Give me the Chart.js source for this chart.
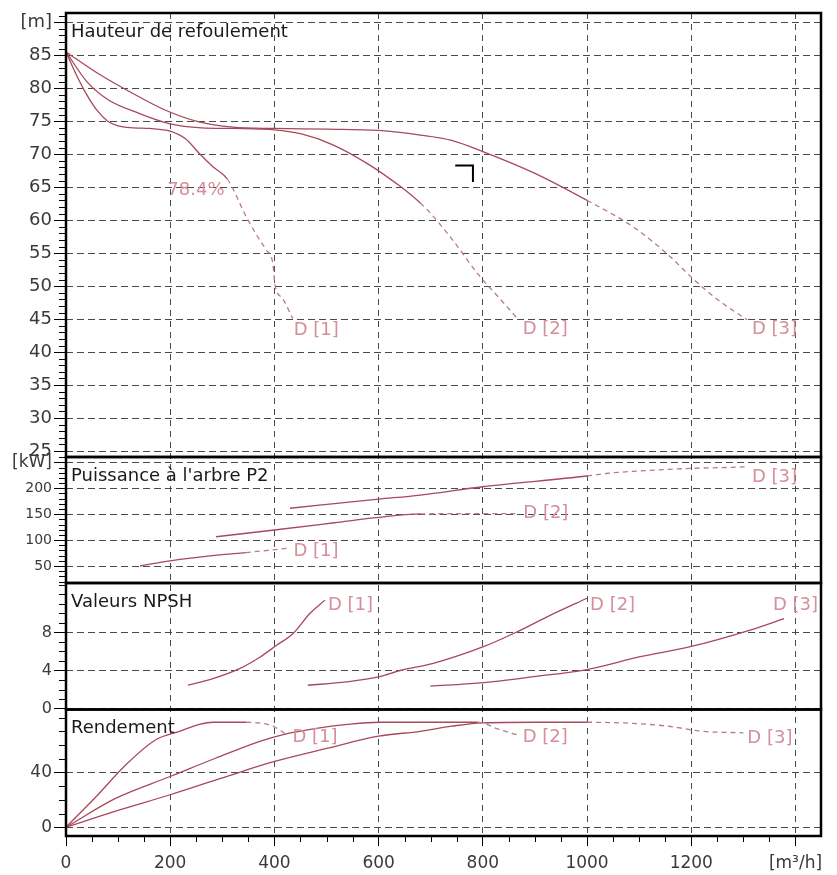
<!DOCTYPE html>
<html>
<head>
<meta charset="utf-8">
<title>Courbes de pompe</title>
<script src="https://cdn.jsdelivr.net/npm/chart.js"></script>
<style>
  html, body { margin: 0; padding: 0; background: #fff; }
</style>
</head>
<body>
<canvas id="pumpChart" width="837" height="875"></canvas>
<script>
// débit Q [m³/h] / hauteur H [m]
const hQ1 = [0, 20, 40, 60, 80, 100, 130, 160, 200, 230, 256, 282, 310, 346, 367, 384, 397, 401, 416, 435];
const hH1 = [85.5, 82, 79, 76.6, 75, 74.3, 74, 73.9, 73.5, 72.3, 70.1, 68.1, 66.2, 60.5, 57.6, 55.5, 53.4, 50.2, 48.1, 45.1];
const hQ2 = [0, 40, 80, 140, 200, 260, 320, 400, 450, 510, 580, 640, 680, 700, 740, 795, 835, 865];
const hH2 = [85.5, 81, 78.3, 76.2, 74.6, 74, 73.9, 73.7, 73.1, 71.5, 68.5, 65.2, 62.6, 61, 57.2, 51.4, 47.9, 45.2];
const hQ3 = [0, 60, 140, 190, 255, 320, 400, 500, 600, 680, 740, 800, 900, 1000, 1090, 1155, 1205, 1255, 1307];
const hH3 = [85.5, 82.3, 78.7, 76.7, 74.9, 74.1, 73.9, 73.8, 73.6, 72.9, 72.1, 70.4, 67.1, 63, 58.9, 54.8, 51, 47.7, 44.9];

// puissance P2 [kW]
const pQ1 = [142, 200, 290, 345, 395, 423];
const pP1 = [50, 60, 71, 76, 81, 84];
const pQ2 = [288, 400, 515, 600, 680, 760, 870];
const pP2 = [106.5, 119.5, 133.5, 144, 150.5, 151, 151];
const pQ3 = [430, 600, 680, 800, 1000, 1040, 1130, 1200, 1280, 1307];
const pP3 = [161.5, 179, 187, 203, 223.7, 229, 235, 238.5, 240.5, 241.5];

// NPSH [m]
const nQ1 = [234, 282, 333, 372, 404, 436, 468, 497];
const nN1 = [2.45, 3.15, 4.2, 5.4, 6.65, 7.9, 10, 11.4];
const nQ2 = [464, 538, 602, 641, 705, 801, 865, 929, 1000];
const nN2 = [2.45, 2.8, 3.35, 4.0, 4.75, 6.5, 8.05, 9.8, 11.6];
const nQ3 = [699, 795, 897, 1000, 1102, 1198, 1313, 1378];
const nN3 = [2.35, 2.7, 3.35, 4.1, 5.45, 6.5, 8.25, 9.45];

// rendement [%]
const eQ1 = [0, 58, 115, 173, 218, 256, 282, 346, 397, 423];
const eE1 = [0, 22.4, 45.6, 64, 70, 75, 76.6, 76.6, 73.7, 67.6];
const eQ2 = [0, 96, 200, 288, 372, 417, 487, 540, 602, 700, 790, 830, 865];
const eE2 = [0, 21.2, 37, 50.5, 62.7, 67.6, 72.5, 75, 76.6, 76.6, 76.6, 71.5, 67.5];
const eQ3 = [0, 100, 200, 300, 400, 500, 600, 680, 740, 800, 900, 1000, 1100, 1160, 1220, 1300];
const eE3 = [0, 12.3, 23.7, 36, 48, 57.5, 66.4, 70, 73.7, 76.2, 76.6, 76.6, 75.5, 73.5, 70, 68.9];

// curseur noir
const curQ = [747, 781, 781];
const curH = [68.3, 68.3, 65.8];

const curveNames = ['D [1]', 'D [2]', 'D [3]'];
const panelTitles = ['Hauteur de refoulement', "Puissance à l'arbre P2", 'Valeurs NPSH', 'Rendement'];
const bestEff = '78.4%';

const FONT = 'DejaVu Sans';
const lineColor = '#a8485c';
const dashColor = '#b77a88';
const labelColor = '#d48e9c';
const gridColor = '#4a4a4a';

function curve(axis, q, v, solidEnd, name, off) {
  return {
    yAxisID: axis,
    data: q.map((x, i) => ({ x: x, y: v[i] })),
    borderColor: lineColor,
    borderWidth: 1.3,
    pointRadius: 0,
    cubicInterpolationMode: 'monotone',
    segment: {
      borderDash: c => c.p0DataIndex >= solidEnd ? [5, 4] : undefined,
      borderColor: c => c.p0DataIndex >= solidEnd ? dashColor : undefined
    },
    endLabel: name,
    labelOffset: off,
    solidEnd: solidEnd
  };
}

const datasets = [
  curve('yH', hQ1, hH1, 12, curveNames[0], [1, 12]),
  curve('yH', hQ2, hH2, 12, curveNames[1], [6, 12]),
  curve('yH', hQ3, hH3, 13, curveNames[2], [5, 10]),
  curve('yP', pQ1, pP1, 3, curveNames[0], [7, 3]),
  curve('yP', pQ2, pP2, 4, curveNames[1], [4, 0]),
  curve('yP', pQ3, pP3, 4, curveNames[2], [5, 11]),
  curve('yN', nQ1, nN1, 99, curveNames[0], [3, 5]),
  curve('yN', nQ2, nN2, 99, curveNames[1], [3, 7]),
  curve('yN', nQ3, nN3, 99, curveNames[2], [-11, -13]),
  curve('yE', eQ1, eE1, 7, curveNames[0], [6, 3]),
  curve('yE', eQ2, eE2, 10, curveNames[1], [6, 3]),
  curve('yE', eQ3, eE3, 11, curveNames[2], [4, 6]),
  {
    yAxisID: 'yH',
    data: curQ.map((x, i) => ({ x: x, y: curH[i] })),
    borderColor: '#000', borderWidth: 2, pointRadius: 0, tension: 0
  }
];
datasets[0].markText = bestEff;

const minorSteps = { x: 50, yH: 1, yP: 10, yN: 1, yE: 10 };

function yAxis(min, max, step, weight, stackWeight, fontFn, labelFn, maxTick) {
  return {
    type: 'linear',
    position: 'left',
    stack: 'pump',
    stackWeight: stackWeight,
    weight: weight,
    min: min,
    max: max,
    afterFit: s => { s.width = 66; },
    afterBuildTicks: s => { s.ticks = s.ticks.filter(t => t.value <= maxTick); },
    ticks: {
      stepSize: step,
      includeBounds: false,
      autoSkip: false,
      padding: 2,
      color: '#3a3a3a',
      font: fontFn,
      callback: labelFn
    },
    grid: { color: gridColor, lineWidth: 1, tickColor: '#000', tickLength: 12, tickBorderDash: [] },
    border: { display: false, dash: [7, 4] }
  };
}

const panelPlugin = {
  id: 'panels',
  afterDatasetsDraw(chart) {
    const ctx = chart.ctx;
    const a = chart.chartArea;
    ctx.save();
    // graduations secondaires
    ctx.strokeStyle = '#000';
    ctx.lineWidth = 1;
    Object.keys(minorSteps).forEach(id => {
      const s = chart.scales[id];
      const step = minorSteps[id];
      const majors = s.ticks.map(t => t.value);
      const n0 = Math.ceil(s.min / step), n1 = Math.floor(s.max / step);
      for (let i = n0; i <= n1; i++) {
        const v = i * step;
        if (majors.some(m => Math.abs(m - v) < 1e-6)) continue;
        const p = Math.round(s.getPixelForValue(v)) + 0.5;
        ctx.beginPath();
        if (id === 'x') { ctx.moveTo(p, a.bottom); ctx.lineTo(p, a.bottom + 6); }
        else { ctx.moveTo(a.left - 7, p); ctx.lineTo(a.left, p); }
        ctx.stroke();
      }
    });
    // cadres
    ctx.lineWidth = 2.5;
    ['yH', 'yP', 'yN', 'yE'].forEach(id => {
      const s = chart.scales[id];
      ctx.strokeRect(a.left, s.top, a.right - a.left, s.bottom - s.top);
    });
    ctx.restore();
  },
  afterDraw(chart) {
    const ctx = chart.ctx;
    const a = chart.chartArea;
    ctx.save();
    ctx.textBaseline = 'middle';
    ctx.fillStyle = '#1a1a1a';
    ctx.font = '18px "' + FONT + '"';
    ['yH', 'yP', 'yN', 'yE'].forEach((id, i) => {
      ctx.textAlign = 'left';
      ctx.fillText(panelTitles[i], a.left + 5, chart.scales[id].top + 19);
    });
    ctx.fillStyle = labelColor;
    chart.data.datasets.forEach((ds, i) => {
      if (!ds.endLabel) return;
      const pts = chart.getDatasetMeta(i).data;
      const last = pts[pts.length - 1];
      ctx.textAlign = 'left';
      ctx.fillText(ds.endLabel, last.x + ds.labelOffset[0], last.y + ds.labelOffset[1]);
      if (ds.markText) {
        const p = pts[ds.solidEnd];
        ctx.textAlign = 'right';
        ctx.fillText(ds.markText, p.x - 3, p.y + 11);
      }
    });
    ctx.restore();
  }
};

const ctx = document.getElementById('pumpChart').getContext('2d');
const pumpChart = new Chart(ctx, {
  type: 'line',
  data: { datasets: datasets },
  plugins: [panelPlugin],
  options: {
    responsive: false,
    animation: false,
    devicePixelRatio: 1,
    layout: { padding: { top: 13, right: 16, bottom: 0, left: 0 } },
    plugins: { legend: { display: false }, tooltip: { enabled: false } },
    scales: {
      x: {
        type: 'linear',
        min: 0,
        max: 1449,
        afterFit: s => { s.height = 39; },
        ticks: {
          stepSize: 200,
          includeBounds: false,
          autoSkip: false,
          maxRotation: 0,
          padding: 7,
          color: '#3a3a3a',
          font: { family: FONT, size: 17 },
          callback: v => v === 1400 ? '[m³/h]' : v
        },
        grid: { color: gridColor, lineWidth: 1, tickColor: '#000', tickLength: 10, tickBorderDash: [] },
        border: { display: false, dash: [6, 5] }
      },
      yE: yAxis(-6.4, 85.9, 40, 1, 126.5, { family: FONT, size: 17 }, v => v, 40),
      yN: yAxis(-0.1, 13.2, 4, 2, 126.5, { family: FONT, size: 16 }, v => v, 8),
      yP: yAxis(17.2, 260.4, 50, 3, 126,
        c => ({ family: FONT, size: c.tick && c.tick.value === 250 ? 17 : 14 }),
        v => v === 250 ? '[kW]' : v, 250),
      yH: yAxis(24.1, 91.4, 5, 4, 444, { family: FONT, size: 18 }, v => v === 90 ? '[m]' : v, 90)
    }
  }
});
</script>
</body>
</html>
